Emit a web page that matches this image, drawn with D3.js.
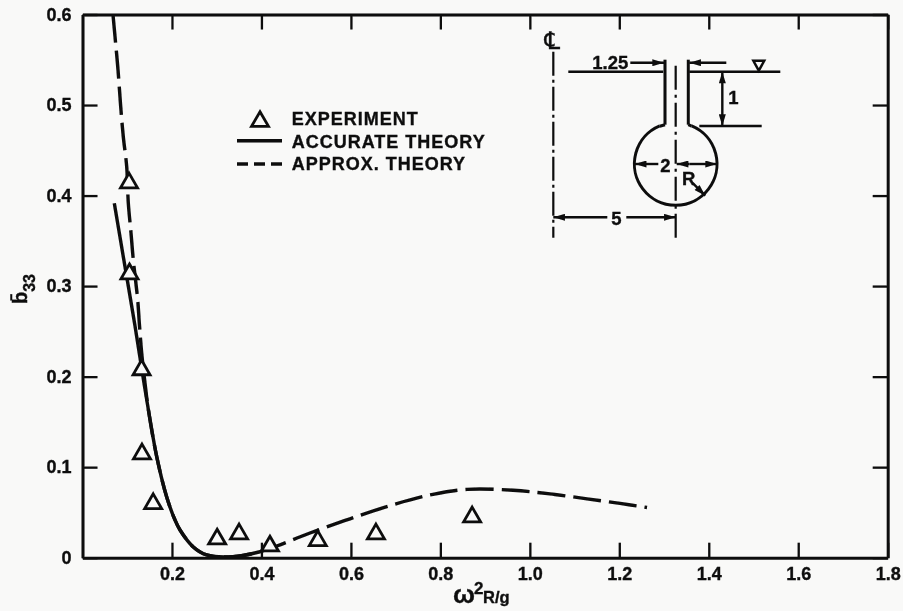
<!DOCTYPE html>
<html><head><meta charset="utf-8">
<script src="https://cdnjs.cloudflare.com/ajax/libs/d3/7.8.5/d3.min.js"></script>
<style>
html,body{margin:0;padding:0;background:#f9f9f8}
text{font-family:"Liberation Sans",Arial,sans-serif;font-weight:700;fill:#0c0c0c;stroke:#0c0c0c;stroke-width:.35px}
</style></head><body>
<svg id="c" width="903" height="611"></svg>
<script>
const xTicks=[0.2,0.4,0.6,0.8,1.0,1.2,1.4,1.6,1.8];
const yTicks=[0,0.1,0.2,0.3,0.4,0.5,0.6];
const expX=[.104,.105,.132,.133,.158,.301,.350,.419,.526,.656,.871];
const expY=[.414,.3135,.2075,.1146,.0597,.0206,.0262,.0129,.0188,.0262,.045];
const accX=[.0711,.0912,.1174,.1323,.1471,.1659,.1882,.2068,.218,.247,.2777,.3365,.3968];
const accY=[.3915,.3325,.2560,.2090,.1640,.1116,.067,.0416,.0306,.0122,.003,.0011,.0066];
const appX=[.0682,.0727,.0794,.0854,.0912,.0988,.1024,.1084,.1136,.1234,.127,.1323,.1397,.1471,.1659,.1882,.2068,.218,.247,.2777,.3365,.3968,.4342,.5086,.598,.6942,.7836,.8596,.9624,1.0452,1.1279,1.2017,1.262];
const appY=[.5995,.5755,.5387,.4982,.465,.4319,.3918,.3587,.3288,.2847,.2592,.2261,.1930,.1640,.1116,.067,.0416,.0306,.0122,.003,.0011,.0066,.0129,.0273,.0430,.0585,.0700,.0755,.0745,.0705,.0650,.0600,.0555];
const legendLabels=["EXPERIMENT","ACCURATE THEORY","APPROX. THEORY"];

const ink="#0c0c0c", bg="#f9f9f8";
const svg=d3.select("#c");
const defs=svg.append("defs");
defs.append("filter").attr("id","soft").attr("x","-5%").attr("y","-5%").attr("width","110%").attr("height","110%")
  .append("feGaussianBlur").attr("stdDeviation",0.6);
defs.append("marker").attr("id","ah").attr("viewBox","0 0 10 6").attr("refX",10).attr("refY",3)
  .attr("markerWidth",15).attr("markerHeight",7).attr("markerUnits","userSpaceOnUse").attr("orient","auto-start-reverse")
  .append("path").attr("d","M0,0L10,3L0,6Z").attr("fill",ink);
const root=svg.append("g").attr("filter","url(#soft)");

const x=d3.scaleLinear().domain([0,1.8]).range([82.5,887.7]);
const y=d3.scaleLinear().domain([0,0.6]).range([557.7,14.5]);
const tick=15;
function styleAxis(g){
  g.selectAll("path.domain").attr("stroke",ink).attr("stroke-width",3).attr("fill","none");
  g.selectAll(".tick line").attr("stroke",ink).attr("stroke-width",2.3);
  g.selectAll("text").attr("font-size",18).attr("font-family",'"Liberation Sans"').attr("font-weight",700).attr("fill",ink);
}
root.append("g").attr("transform",`translate(0,${y(0)})`)
  .call(d3.axisBottom(x).tickValues(xTicks).tickSizeInner(-tick).tickSizeOuter(0).tickPadding(10).tickFormat(d3.format(".1f"))).call(styleAxis);
root.append("g").attr("transform",`translate(0,${y(0.6)})`)
  .call(d3.axisTop(x).tickValues(xTicks).tickSizeInner(-tick).tickSizeOuter(0).tickFormat("")).call(styleAxis);
root.append("g").attr("transform",`translate(${x(0)},0)`)
  .call(d3.axisLeft(y).tickValues(yTicks).tickSizeInner(-tick).tickSizeOuter(0).tickPadding(11).tickFormat(d=>d===0?"0":d3.format(".1f")(d))).call(styleAxis);
root.append("g").attr("transform",`translate(${x(1.8)},0)`)
  .call(d3.axisRight(y).tickValues(yTicks).tickSizeInner(-tick).tickSizeOuter(0).tickFormat("")).call(styleAxis);

const line=d3.line().x(d=>x(d[0])).y(d=>y(d[1])).curve(d3.curveCatmullRom.alpha(0.5));
root.append("path").attr("d",line(d3.zip(appX,appY))).attr("fill","none").attr("stroke",ink)
  .attr("stroke-width",3.4).attr("stroke-dasharray","28 8");
root.append("path").attr("d",line(d3.zip(accX,accY))).attr("fill","none").attr("stroke",ink)
  .attr("stroke-width",3.4);

const tri=d3.symbol().type(d3.symbolTriangle).size(125);
root.append("g").selectAll("path").data(d3.zip(expX,expY)).join("path")
  .attr("d",tri).attr("transform",d=>`translate(${x(d[0])},${y(d[1])})`)
  .attr("fill",bg).attr("stroke",ink).attr("stroke-width",2.8);

/* legend */
const lg=root.append("g");
lg.append("path").attr("d",tri).attr("transform","translate(260,121.5)").attr("fill",bg).attr("stroke",ink).attr("stroke-width",2.8);
lg.append("line").attr("x1",237).attr("x2",282).attr("y1",140.7).attr("y2",140.7).attr("stroke",ink).attr("stroke-width",3.4);
lg.append("line").attr("x1",237).attr("x2",282).attr("y1",164).attr("y2",164).attr("stroke",ink).attr("stroke-width",3.4).attr("stroke-dasharray","11 6");
lg.selectAll("text").data(legendLabels).join("text")
  .attr("x",291.7).attr("y",(d,i)=>125+i*22.5).attr("font-size",18).attr("letter-spacing",1).text(d=>d);

/* axis titles */
root.append("text").attr("transform","translate(27,304) rotate(-90)").attr("font-size",20)
  .call(t=>{t.append("tspan").text("b\u0304");t.append("tspan").attr("dy",8).attr("font-size",16).text("33");});
const xl=root.append("text").attr("y",603);
xl.append("tspan").attr("x",453).attr("font-size",26).text("\u03c9");
xl.append("tspan").attr("x",474).attr("font-size",17).attr("dy",-9).text("2");
xl.append("tspan").attr("x",483).attr("font-size",16.5).attr("dy",9).text("R/g");

/* section sketch: sketch units, origin on the centreline at the waterline */
const sx=d3.scaleLinear().domain([0,100]).range([553.3,653.3]);
const sy=d3.scaleLinear().domain([0,100]).range([71.7,171.7]);
const sk=root.append("g");
const axisU=122.4, bulbV=92.3, bulbR=41.3, neckL=111.7, neckR=135;
function seg(u1,v1,u2,v2,o={}){
  const l=sk.append("line").attr("x1",sx(u1)).attr("y1",sy(v1)).attr("x2",sx(u2)).attr("y2",sy(v2))
    .attr("stroke",ink).attr("stroke-width",o.w||2.4);
  if(o.dash)l.attr("stroke-dasharray",o.dash);
  if(o.end)l.attr("marker-end","url(#ah)");
  if(o.start)l.attr("marker-start","url(#ah)");
}
seg(0,-20,0,166,{w:2.2,dash:"24 4 3 4"});
seg(axisU,-6,axisU,166,{w:2.2,dash:"24 5 3 5"});
seg(15,0,110,0); seg(136,0,227,0);
seg(neckL,-12,neckL,53,{w:3}); seg(neckR,-12,neckR,53,{w:3});
const a0=Math.asin(16/bulbR);
sk.append("path").attr("transform",`translate(${sx(axisU)},${sy(bulbV)})`)
  .attr("d",d3.arc().innerRadius(bulbR).outerRadius(bulbR).startAngle(a0).endAngle(2*Math.PI-a0)())
  .attr("fill","none").attr("stroke",ink).attr("stroke-width",3);
seg(neckL,53,axisU-16,54.5,{w:3}); seg(neckR,53,axisU+16,54.5,{w:3});
seg(146,54.3,208.4,54.3);
seg(169,0,169,54.3,{start:true,end:true});
seg(77,-9,neckL-1,-9,{end:true}); seg(173,-9,neckR+1,-9,{end:true});
seg(105,92.3,81.5,92.3,{end:true});
seg(axisU+1,92.3,axisU+14,92.3,{start:true});
seg(axisU+14,92.3,163.7,92.3,{end:true});
seg(139.5,111.5,152,124,{end:true});
seg(0,145.6,54,145.6,{start:true}); seg(73,145.6,axisU,145.6,{end:true});
sk.append("path").attr("d",d3.line().x(d=>sx(d[0])).y(d=>sy(d[1]))([[200,-11],[211,-11],[205.5,-1]])+"Z")
  .attr("fill","none").attr("stroke",ink).attr("stroke-width",2.4);
const notes=[["1.25",57,-3],["1",180,32],["2",112,100],["R",135.5,113],["5",63,153]];
sk.selectAll("text.n").data(notes).join("text").attr("class","n")
  .attr("x",d=>sx(d[1])).attr("y",d=>sy(d[2])).attr("text-anchor","middle").attr("font-size",18.5).text(d=>d[0]);
sk.append("text").attr("x",sx(-1)).attr("y",sy(-23)).attr("text-anchor","middle")
  .style("font-family",'"DejaVu Sans"').style("font-weight",400).attr("font-size",24).text("\u2104");
</script></body></html>
